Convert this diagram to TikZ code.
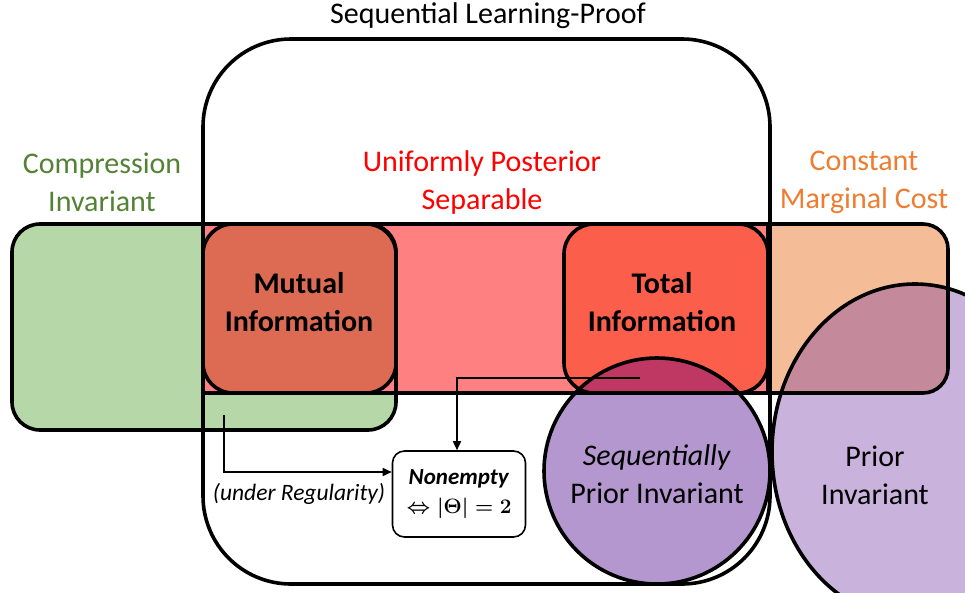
\documentclass[tikz,border=0pt]{standalone}
\usepackage{amsmath}
\usepackage{fontspec}
\setmainfont{Carlito}
\usetikzlibrary{arrows.meta,positioning,calc}

\definecolor{cigreen}{HTML}{B6D7A8}
\definecolor{cigreentxt}{HTML}{548235}
\definecolor{upspink}{HTML}{FF8080}
\definecolor{mutred}{HTML}{DD6B53}
\definecolor{totred}{HTML}{FC5E4C}
\definecolor{cmcorange}{HTML}{F4BD98}
\definecolor{cmctxt}{HTML}{ED7D31}
\definecolor{seqpurple}{HTML}{B497CF}
\definecolor{seqcap}{HTML}{BF3763}
\definecolor{pililac}{HTML}{C9B2DC}
\definecolor{pimauve}{HTML}{C4899A}

\begin{document}
\begin{tikzpicture}[x=1pt,y=-1pt,
  font=\fontsize{30}{38}\selectfont,
  setline/.style={draw=black, line width=3.6pt},
  label/.style={align=center, inner sep=0pt},
  bold/.style={label, font=\fontsize{30}{38}\selectfont\bfseries},
  arr/.style={-{Triangle[length=9pt,width=8pt]}, line width=1.6pt},
  condbox/.style={draw, line width=1.6pt, rounded corners=12pt, align=center,
    minimum width=133pt, minimum height=86pt, inner sep=2pt,
    font=\fontsize{23}{29}\selectfont}
]
\useasboundingbox (0,0) rectangle (965,592);
\clip (0,0) rectangle (965,592);

% fills
\fill[cigreen, rounded corners=28pt] (12,224) rectangle (396,430);
\fill[cmcorange, rounded corners=25pt] (700,224) rectangle (948,393);
\fill[upspink] (203,224) rectangle (768,393);
\fill[mutred, rounded corners=30pt] (203,224) rectangle (396,393);
\fill[totred, rounded corners=30pt] (564,224) rectangle (768,393);
\fill[seqpurple] (657,471) circle[radius=113];
\fill[pililac] (915,452) ellipse[x radius=143, y radius=168];

% overlaps
\begin{scope}
  \clip (203,224) rectangle (768,393);
  \fill[seqcap] (657,471) circle[radius=113];
\end{scope}
\begin{scope}
  \clip[rounded corners=25pt] (700,224) rectangle (948,393);
  \fill[pimauve] (915,452) ellipse[x radius=143, y radius=168];
\end{scope}

% outlines
\draw[setline, rounded corners=88pt] (203,39) rectangle (770,584);
\draw[setline, rounded corners=28pt] (12,224) rectangle (396,430);
\begin{scope}
  \clip (768,0) rectangle (965,592);
  \draw[setline, rounded corners=25pt] (700,224) rectangle (948,393);
\end{scope}
\draw[setline] (203,224) rectangle (768,393);
\draw[setline, rounded corners=30pt] (203,224) rectangle (396,393);
\draw[setline, rounded corners=30pt] (564,224) rectangle (768,393);
\draw[setline] (657,471) circle[radius=113];
\draw[setline] (915,452) ellipse[x radius=143, y radius=168];

% set names
\node[label] (slp) at (488,16) {Sequential Learning-Proof};
\node[label, text=cigreentxt] (ci) at (102,182) {Compression\\Invariant};
\node[label, text=red] (ups) at (482,182) {Uniformly Posterior\\Separable};
\node[label, text=cmctxt] (cmc) at (864,182) {Constant\\Marginal Cost};
\node[bold] (mi) at (299,302) {Mutual\\Information};
\node[bold] (ti) at (662,302) {Total\\Information};
\node[label] (seqpi) at (657,474) {\textit{Sequentially}\\Prior Invariant};
\node[label] (pi) at (875,475) {Prior\\Invariant};

% the two-state case
\node[condbox] (nonempty) at (459,494)
  {\textbf{\textit{Nonempty}}\\{\fontsize{21}{28}\selectfont\mathversion{bold}$\Leftrightarrow |\boldsymbol{\Theta}| = \mathbf{2}$}};
\node[label, font=\fontsize{23.5}{28}\selectfont\itshape] (reg) at (299,494) {(under Regularity)};

\coordinate (capstart) at (640,378);
\coordinate (regstart) at (224,415);
\draw[arr] (capstart) -| ([xshift=-2pt]nonempty.north);
\draw[arr] (regstart) |- ([yshift=22pt]nonempty.west);

\end{tikzpicture}
\end{document}
